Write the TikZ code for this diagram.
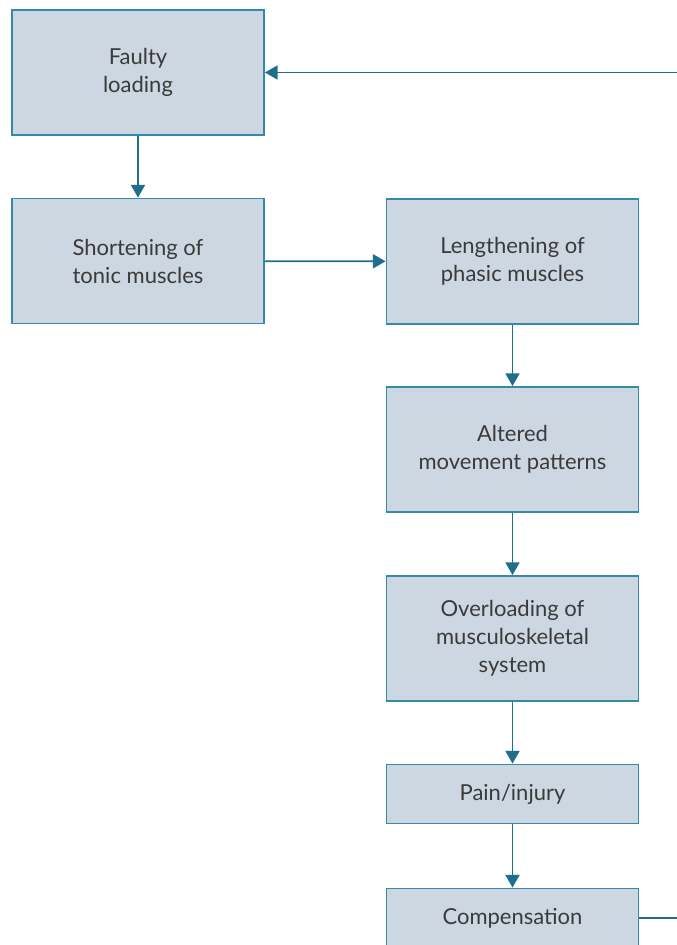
\documentclass[tikz,border=0pt]{standalone}
\usepackage{fontspec}
\setmainfont{Lato}
\usetikzlibrary{arrows.meta}
\definecolor{boxfill}{HTML}{CDD7E2}
\definecolor{boxline}{HTML}{3489AC}
\definecolor{arrowline}{HTML}{1E6E8E}
\definecolor{boxtext}{HTML}{3A3A3A}
\tikzset{
  flowbox/.style={draw=boxline, line width=1.4pt, fill=boxfill, text=boxtext,
    minimum width=189pt, minimum height=93.75pt, align=center,
    font=\fontsize{16.5}{21}\selectfont, inner sep=0pt},
  shortbox/.style={flowbox, minimum height=44.25pt},
  flowarrow/.style={draw=arrowline, line width=1.3pt, -{Triangle[length=9.5pt,width=10.5pt]}},
  flowline/.style={draw=arrowline, line width=1.3pt}
}
\begin{document}
\begin{tikzpicture}[x=0.75pt,y=-0.75pt]
        \clip (0,0) rectangle (677,945);
        \useasboundingbox (0,0) rectangle (677,945);

        % Left column
        \node[flowbox] (fault) at (138,72.5) {Faulty\\loading};
        \node[flowbox] (shorten) at (138,261) {Shortening of\\tonic muscles};

        % Right column
        \node[flowbox] (lengthen) at (512.5,261.5) {Lengthening of\\phasic muscles};
        \node[flowbox] (altered) at (512.5,449.5) {Altered\\movement patterns};
        \node[flowbox] (overload) at (512.5,638.5) {Overloading of\\musculoskeletal\\system};
        \node[shortbox] (pain) at (512.5,794) {Pain/injury};
        \node[shortbox] (comp) at (512.5,918) {Compensation};

        % Loop ends at the page edge
        \coordinate (loopin) at (677,72.5);
        \coordinate (loopout) at (677,918);

        \draw[flowarrow] (fault) -- (shorten);
        \draw[flowarrow] (shorten) -- (lengthen);
        \draw[flowarrow] (lengthen) -- (altered);
        \draw[flowarrow] (altered) -- (overload);
        \draw[flowarrow] (overload) -- (pain);
        \draw[flowarrow] (pain) -- (comp);
        \draw[flowline] (comp.east) -- (loopout);
        \draw[flowarrow] (loopin) -- (fault.east);
    \end{tikzpicture}
\end{document}
